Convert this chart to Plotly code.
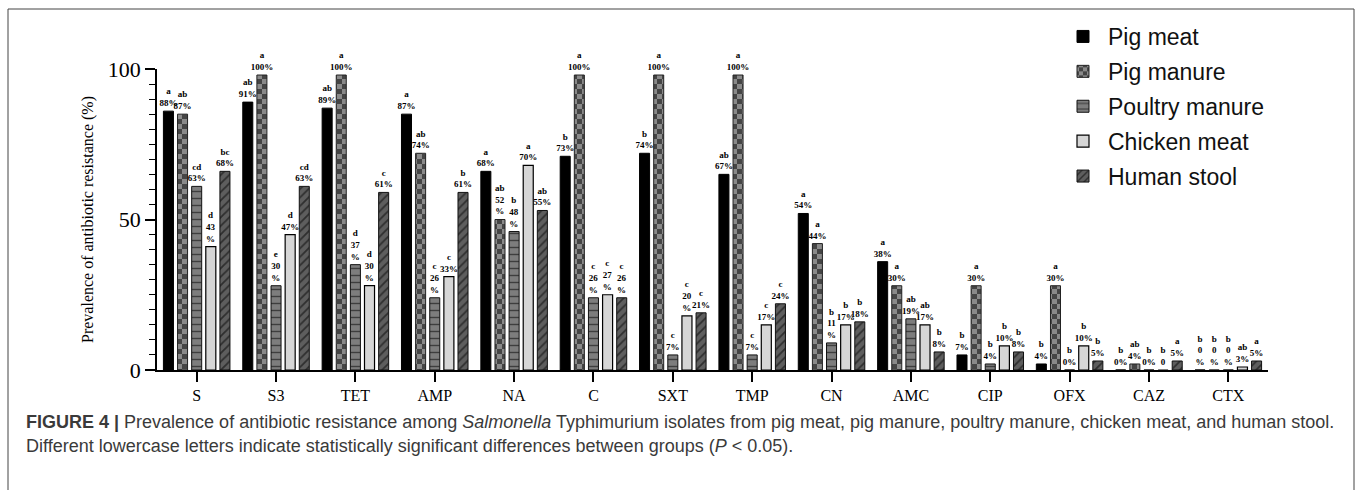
import plotly.graph_objects as go

categories = ["S", "S3", "TET", "AMP", "NA", "C", "SXT", "TMP", "CN", "AMC", "CIP", "OFX", "CAZ", "CTX"]

series_names = ["Pig meat", "Pig manure", "Poultry manure", "Chicken meat", "Human stool"]

# bar heights as drawn in the figure (%)
pig_meat = [86, 89, 87, 85, 66, 71, 72, 65, 52, 36, 5, 2, 0, 0]
pig_manure = [85, 98, 98, 72, 50, 98, 98, 98, 42, 28, 28, 28, 2, 0]
poultry_manure = [61, 28, 35, 24, 46, 24, 5, 5, 9, 17, 2, 0, 0, 0]
chicken_meat = [41, 45, 28, 31, 68, 25, 18, 15, 15, 15, 8, 8, 0, 1]
human_stool = [66, 61, 59, 59, 53, 24, 19, 22, 16, 6, 6, 3, 3, 3]

# significance letters + printed percentages
pig_meat_lbl = ["a<br>88%", "ab<br>91%", "ab<br>89%", "a<br>87%", "a<br>68%", "b<br>73%", "b<br>74%",
                "ab<br>67%", "a<br>54%", "a<br>38%", "b<br>7%", "b<br>4%", "b<br>0%", "b<br>0<br>%"]
pig_manure_lbl = ["ab<br>87%", "a<br>100%", "a<br>100%", "ab<br>74%", "ab<br>52<br>%", "a<br>100%", "a<br>100%",
                  "a<br>100%", "a<br>44%", "a<br>30%", "a<br>30%", "a<br>30%", "ab<br>4%", "b<br>0<br>%"]
poultry_manure_lbl = ["cd<br>63%", "e<br>30<br>%", "d<br>37<br>%", "c<br>26<br>%", "b<br>48<br>%", "c<br>26<br>%", "c<br>7%",
                      "c<br>7%", "b<br>11<br>%", "ab<br>19%", "b<br>4%", "b<br>0%", "b<br>0%", "b<br>0<br>%"]
chicken_meat_lbl = ["d<br>43<br>%", "d<br>47%", "d<br>30<br>%", "c<br>33%", "a<br>70%", "c<br>27<br>%", "c<br>20<br>%",
                    "c<br>17%", "b<br>17%", "ab<br>17%", "b<br>10%", "b<br>10%", "b<br>0", "ab<br>3%"]
human_stool_lbl = ["bc<br>68%", "cd<br>63%", "c<br>61%", "b<br>61%", "ab<br>55%", "c<br>26<br>%", "c<br>21%",
                   "c<br>24%", "b<br>18%", "b<br>8%", "b<br>8%", "b<br>5%", "a<br>5%", "a<br>5%"]

values = [pig_meat, pig_manure, poultry_manure, chicken_meat, human_stool]
labels = [pig_meat_lbl, pig_manure_lbl, poultry_manure_lbl, chicken_meat_lbl, human_stool_lbl]

markers = [
    dict(color="#000000", line=dict(color="#000000", width=1)),
    dict(color="#8a8a8a", line=dict(color="#222222", width=1),
         pattern=dict(shape="+", size=10, solidity=0.5, fgcolor="#010101", bgcolor="#8a8a8a", fillmode="overlay")),
    dict(color="#7d7d7d", line=dict(color="#111111", width=1),
         pattern=dict(shape="-", size=7, solidity=0.2, fgcolor="#000000", bgcolor="#7d7d7d", fillmode="overlay")),
    dict(color="#d6d6d6", line=dict(color="#000000", width=1.2)),
    dict(color="#5e5e5e", line=dict(color="#111111", width=1),
         pattern=dict(shape="/", size=6, solidity=0.3, fgcolor="#000000", bgcolor="#5e5e5e", fillmode="overlay")),
]

fig = go.Figure()
for i, name in enumerate(series_names):
    fig.add_trace(go.Bar(
        x=categories, y=values[i], name=name,
        text=labels[i], textposition="outside", textangle=0,
        constraintext="none", cliponaxis=False,
        textfont=dict(family="Liberation Serif", size=9, color="#000000", weight="bold"),
        marker=markers[i], legendgroup=name,
        hoverinfo="skip",
    ))

L, R, T, B = 157, 89, 69, 120
W, H = 1357, 490
pw, ph = W - L - R, H - T - B


def px(x):
    return (x - L) / pw


def py(y):
    return (H - B - y) / ph


serif = "Liberation Serif"
fig.update_layout(
    width=W, height=H,
    margin=dict(l=L, r=R, t=T, b=B),
    paper_bgcolor="white", plot_bgcolor="white",
    barmode="group", bargap=0.11, bargroupgap=0.29,
    showlegend=True,
    legend=dict(x=px(1058), y=py(15), xanchor="left", yanchor="top",
                font=dict(family="Liberation Sans", size=23, color="#111111"),
                bgcolor="rgba(0,0,0,0)", tracegroupgap=2, traceorder="grouped",
                itemwidth=40),
    xaxis=dict(range=[-0.5, 13.5], showline=True, linecolor="#000000", linewidth=1.6,
               ticks="outside", ticklen=10, tickwidth=1.5, tickcolor="#000000",
               tickfont=dict(family=serif, size=16, color="#000000"),
               showgrid=False, zeroline=False, fixedrange=True),
    yaxis=dict(range=[0, 100], tickvals=[0, 50, 100], showline=True, linecolor="#000000", linewidth=1.6,
               ticks="outside", ticklen=10, tickwidth=1.5, tickcolor="#000000",
               minor=dict(dtick=5, ticks="outside", ticklen=6, tickwidth=1.2, tickcolor="#000000", showgrid=False),
               tickfont=dict(family=serif, size=22, color="#000000"),
               title=dict(text="Prevalence of antibiotic resistance (%)",
                          font=dict(family=serif, size=16, color="#000000"), standoff=10),
               showgrid=False, zeroline=False, fixedrange=True),
    shapes=[dict(type="rect", xref="paper", yref="paper",
                 x0=px(8), x1=px(1354), y0=py(500), y1=py(9),
                 line=dict(color="#444444", width=1), fillcolor="rgba(0,0,0,0)", layer="below")],
    annotations=[
        dict(xref="paper", yref="paper", x=px(24), y=py(422), xanchor="left", yanchor="middle",
             showarrow=False, align="left",
             text="<b>FIGURE 4 |</b> Prevalence of antibiotic resistance among <i>Salmonella</i> Typhimurium isolates from pig meat, pig manure, poultry manure, chicken meat, and human stool.",
             font=dict(family="Liberation Sans", size=18, color="#3a3a3a")),
        dict(xref="paper", yref="paper", x=px(24), y=py(446), xanchor="left", yanchor="middle",
             showarrow=False, align="left",
             text="Different lowercase letters indicate statistically significant differences between groups (<i>P</i> &lt; 0.05).",
             font=dict(family="Liberation Sans", size=18, color="#3a3a3a")),
    ],
)

post_js = """
(function(){
  document.body.style.margin = '0';
  document.body.style.overflow = 'hidden';
  var gd = document.getElementById('{plot_id}');
  function chk(){
    document.querySelectorAll('pattern').forEach(function(pt){
      var p = pt.querySelector('path');
      if(!p) return;
      var s = (p.getAttribute('stroke') || p.style.stroke || '').replace(/\\s/g,'');
      if(s === 'rgb(1,1,1)' || s === '#010101'){
        var w = parseFloat(pt.getAttribute('width'));
        var h = w / 2;
        p.setAttribute('d', 'M0,0H'+h+'V'+h+'H0Z M'+h+','+h+'H'+w+'V'+w+'H'+h+'Z');
        p.setAttribute('fill', '#000000');
        p.setAttribute('stroke', 'none');
        p.style.stroke = 'none';
        p.removeAttribute('stroke-width');
      }
    });
  }
  chk();
  if(gd && gd.on){ gd.on('plotly_afterplot', chk); }
  setTimeout(chk, 50);
})();
"""

fig.write_html("out.html", post_script=post_js, config={"displayModeBar": False})
